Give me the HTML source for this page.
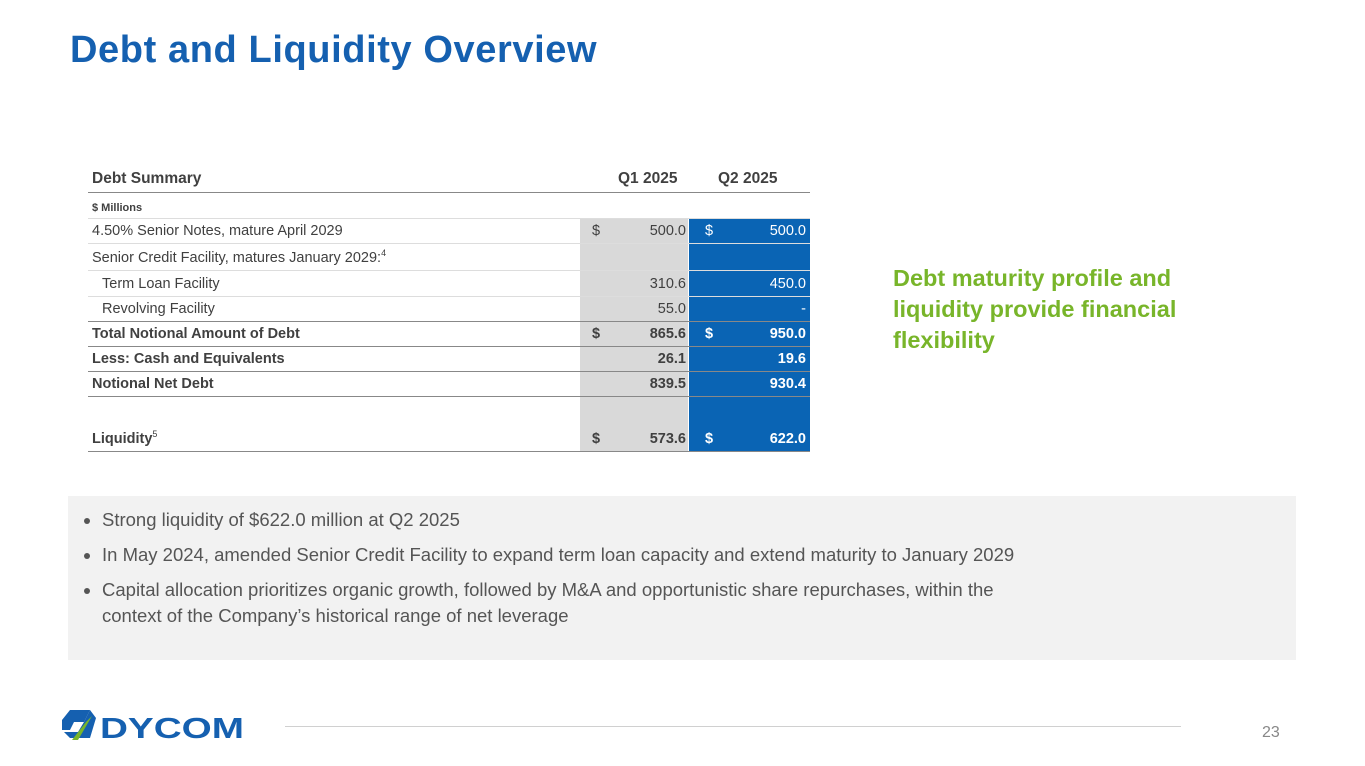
<!DOCTYPE html>
<html><head><meta charset="utf-8"><style>
body{margin:0;width:1365px;height:766px;position:relative;background:#fff;font-family:"Liberation Sans",sans-serif;overflow:hidden}
.a{position:absolute}
.row{position:absolute;left:88px;width:722px;border-bottom:1px solid #ddd}
.lbl{position:absolute;left:4px;bottom:4px;white-space:nowrap}
.d1{position:absolute;left:504px;bottom:4px}
.v1{position:absolute;right:124px;bottom:4px}
.d2{position:absolute;left:617px;bottom:4px;color:#fff}
.v2{position:absolute;right:4px;bottom:4px;color:#fff}
.b{font-weight:bold;color:#404040}
.thick{border-bottom:1.5px solid #888}
</style></head><body>
<div class="a" style="left:70px;top:29px;font-size:38px;letter-spacing:0.6px;font-weight:bold;color:#1560b0">Debt and Liquidity Overview</div>
<div class="a" style="left:580px;top:218px;width:108px;height:234px;background:#d9d9d9"></div>
<div class="a" style="left:689px;top:218px;width:121px;height:234px;background:#0a64b4"></div>
<div class="row b" style="top:166px;height:26px;border-bottom:1.5px solid #888;font-size:15.5px"><span class="lbl">Debt Summary</span><span style="position:absolute;left:530px;bottom:4px">Q1 2025</span><span style="position:absolute;left:630px;bottom:4px">Q2 2025</span></div>
<div class="row b" style="top:193px;height:25px;font-size:11px"><span class="lbl">$ Millions</span></div>
<div class="row" style="top:218px;height:25px;font-size:14.5px;color:#404040"><span class="lbl">4.50% Senior Notes, mature April 2029</span><span class="d1">$</span><span class="v1">500.0</span><span class="d2">$</span><span class="v2">500.0</span></div>
<div class="row" style="top:244px;height:26px;font-size:14.5px;color:#404040"><span class="lbl">Senior Credit Facility, matures January 2029:<sup style="font-size:9px">4</sup></span></div>
<div class="row" style="top:271px;height:25px;font-size:14.5px;color:#404040"><span class="lbl" style="left:14px">Term Loan Facility</span><span class="v1">310.6</span><span class="v2">450.0</span></div>
<div class="row thick" style="top:297px;height:24px;font-size:14.5px;color:#404040"><span class="lbl" style="left:14px">Revolving Facility</span><span class="v1">55.0</span><span class="v2">-</span></div>
<div class="row b thick" style="top:322px;height:24px;font-size:14.5px"><span class="lbl">Total Notional Amount of Debt</span><span class="d1">$</span><span class="v1">865.6</span><span class="d2">$</span><span class="v2">950.0</span></div>
<div class="row b thick" style="top:347px;height:24px;font-size:14.5px"><span class="lbl">Less: Cash and Equivalents</span><span class="v1">26.1</span><span class="v2">19.6</span></div>
<div class="row b thick" style="top:372px;height:24px;font-size:14.5px"><span class="lbl">Notional Net Debt</span><span class="v1">839.5</span><span class="v2">930.4</span></div>
<div class="row b thick" style="top:397px;height:54px;font-size:14.5px"><span class="lbl">Liquidity<sup style="font-size:9px;font-weight:normal">5</sup></span><span class="d1">$</span><span class="v1">573.6</span><span class="d2">$</span><span class="v2">622.0</span></div>
<div class="a" style="left:893px;top:263px;width:340px;font-size:23.5px;font-weight:bold;color:#78b52a;line-height:31px">Debt maturity profile and liquidity provide financial flexibility</div>
<div class="a" style="left:68px;top:496px;width:1228px;height:164px;background:#f2f2f2"></div>
<ul class="a" style="left:80px;top:507px;margin:0;padding:0 0 0 22px;width:940px;font-size:18.5px;color:#555;line-height:26px">
<li style="margin-bottom:9px">Strong liquidity of $622.0 million at Q2 2025</li>
<li style="margin-bottom:9px;white-space:nowrap">In May 2024, amended Senior Credit Facility to expand term loan capacity and extend maturity to January 2029</li>
<li>Capital allocation prioritizes organic growth, followed by M&amp;A and opportunistic share repurchases, within the context of the Company’s historical range of net leverage</li>
</ul>
<svg class="a" style="left:60px;top:708px" width="190" height="36" viewBox="0 0 190 36">
<polygon points="10,2 30,2 24,14 14,14 10,22 2,22 2,12" fill="#1560b0"/>
<polygon points="30,2 36,10 30,30 10,30 4,24 18,24 24,14" fill="#1560b0"/>
<polygon points="26,14 32,8 18,32 12,32" fill="#78b52a"/>
<text x="40" y="30" font-family="Liberation Sans" font-weight="bold" font-size="29" fill="#1560b0" textLength="144" lengthAdjust="spacingAndGlyphs">DYCOM</text>
</svg>
<div class="a" style="left:285px;top:726px;width:896px;height:1px;background:#d0d0d0"></div>
<div class="a" style="left:1262px;top:724px;font-size:16px;color:#888">23</div>
</body></html>
